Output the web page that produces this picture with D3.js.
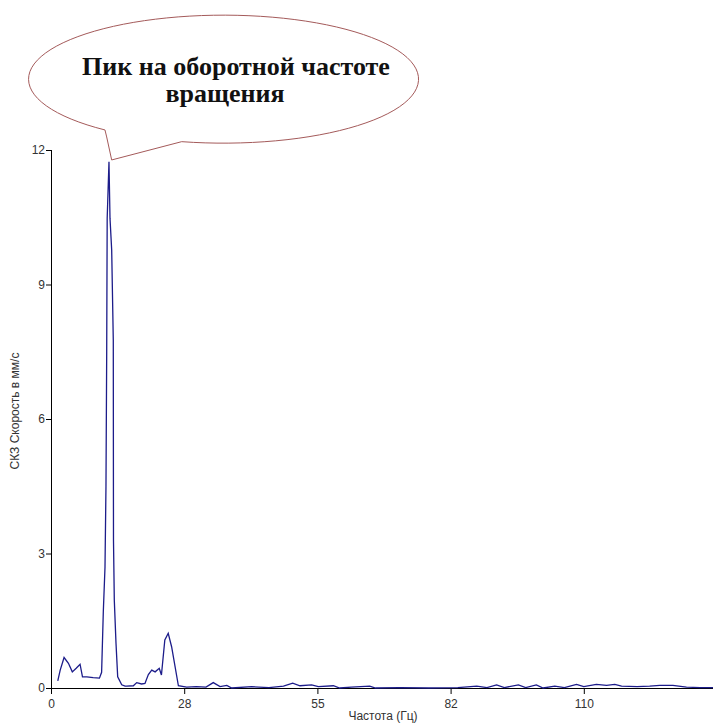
<!DOCTYPE html>
<html>
<head>
<meta charset="utf-8">
<script src="https://cdn.jsdelivr.net/npm/d3@7"></script>
<style>
  body { margin: 0; background: #fff; }
  svg { display: block; overflow: hidden; }
</style>
</head>
<body>
<svg id="spectrum" width="713" height="724"></svg>
<script>
(function(){

  // spectrum: frequency (Hz) and RMS velocity (mm/s)
  var freqs = [1.4, 1.9, 2.7, 3.6, 4.4, 5.2, 6.0, 6.5, 7.4, 8.7, 10.0, 10.45, 10.8, 11.15, 11.35, 11.5, 11.6, 11.97,
               12.18, 12.53, 12.86, 12.9, 13.07, 13.42, 13.77, 14.6, 15.3, 15.6, 17.0, 17.7, 18.7, 19.4, 20.1, 20.8, 21.5, 22.35, 22.8,
               23.5, 24.2, 24.9, 26.3, 28.0, 30.0, 32.0, 33.5, 34.9, 36.3, 37.3, 41.4, 45.0, 48.0, 49.9, 51.4, 53.8, 55.2,
               58.3, 59.6, 62.0, 65.8, 67.0, 72.0, 78.0, 84.0, 87.9, 90.0, 92.0, 93.6, 96.5, 98.0, 100.2, 101.6, 104.0,
               106.0, 108.5, 110.0, 112.6, 114.7, 116.4, 117.8, 121.0, 123.6, 125.7, 128.4, 131.2, 134.0, 137.5]
  var speeds = [0.16, 0.40, 0.68, 0.55, 0.36, 0.44, 0.53, 0.25, 0.25, 0.23, 0.22, 0.35, 1.70, 2.70, 4.50, 7.50, 10.48, 11.74,
                10.48, 9.77, 7.76, 3.30, 1.96, 1.00, 0.25, 0.07, 0.04, 0.04, 0.05, 0.12, 0.09, 0.10, 0.30, 0.40, 0.36, 0.44, 0.29,
                1.07, 1.22, 0.92, 0.05, 0.02, 0.03, 0.02, 0.12, 0.03, 0.06, 0.00, 0.03, 0.01, 0.04, 0.11, 0.05, 0.07, 0.03,
                0.05, 0.00, 0.02, 0.04, 0.00, 0.01, 0.00, 0.01, 0.04, 0.01, 0.07, 0.01, 0.07, 0.01, 0.07, 0.00, 0.04,
                0.01, 0.08, 0.03, 0.08, 0.06, 0.08, 0.04, 0.03, 0.04, 0.06, 0.06, 0.02, 0.01, 0.01]

  var xTicks = [0, 27.5, 55, 82.5, 110]
  var xTickLabels = ['0', '28', '55', '82', '110']
  var yTicks = [0, 3, 6, 9, 12]

  var xTitle = 'Частота (Гц)'
  var yTitle = 'СКЗ Скорость в мм/с'
  var callout = ['Пик на оборотной частоте', 'вращения']

  var svg = d3.select('#spectrum')

  var xScale = d3.scaleLinear().domain([0, 137.5]).range([51, 717])
  var yScale = d3.scaleLinear().domain([0, 12]).range([688, 150])

  // axes
  var xAxis = d3.axisBottom(xScale)
    .tickValues(xTicks)
    .tickSize(6)
    .tickFormat(function(d, i) { return xTickLabels[i] })
  var yAxis = d3.axisLeft(yScale)
    .tickValues(yTicks)
    .tickSize(5)

  var gx = svg.append('g')
    .attr('transform', 'translate(0,' + yScale(0) + ')')
    .call(xAxis)
  gx.select('.domain').attr('d', 'M' + xScale(0) + ',0.5H' + 713)

  var gy = svg.append('g')
    .attr('transform', 'translate(' + xScale(0) + ',0)')
    .call(yAxis)
  gy.select('.domain').attr('d', 'M0.5,' + yScale(12) + 'V' + yScale(0))

  svg.selectAll('.tick text')
    .style('font-family', 'Liberation Sans, Arial, sans-serif')
    .style('font-size', '12px')
    .attr('fill', '#333')
  gx.selectAll('.tick text').attr('dy', '0.9em')
  gy.selectAll('.tick text').attr('x', -6)

  svg.append('text')
    .attr('x', 383).attr('y', 720)
    .attr('text-anchor', 'middle')
    .style('font-family', 'Liberation Sans, Arial, sans-serif')
    .style('font-size', '12px')
    .attr('fill', '#333')
    .text(xTitle)

  svg.append('text')
    .attr('transform', 'translate(19,411) rotate(-90)')
    .attr('text-anchor', 'middle')
    .style('font-family', 'Liberation Sans, Arial, sans-serif')
    .style('font-size', '12px')
    .attr('fill', '#333')
    .text(yTitle)

  // spectrum line
  var pts = freqs.map(function(f, i) { return [xScale(f), yScale(speeds[i])] })
  svg.append('path')
    .attr('d', d3.line()(pts))
    .attr('fill', 'none')
    .attr('stroke', '#1c1c8a')
    .attr('stroke-width', 1.3)

  // speech bubble pointing at the biggest peak
  var iMax = d3.maxIndex(speeds)
  var px = xScale(freqs[iMax]) + 2.7, py = yScale(speeds[iMax]) - 1.7
  var rx = 195, ry = 64
  var bubble = 'M' + (px - 6.7) + ',' + (py - 30) +
    'L' + (px - 5) + ',' + (py - 23) +
    'L' + px + ',' + py +
    'L' + (px + 70) + ',' + (py - 18.3) +
    'A' + rx + ',' + ry + ' 0 1 0 ' + (px - 6.7) + ',' + (py - 30) + 'Z'
  svg.append('path')
    .attr('d', bubble)
    .attr('fill', '#fff')
    .attr('stroke', '#a45a5a')
    .attr('stroke-width', 1)

  svg.selectAll('.callout')
    .data(callout)
    .enter().append('text')
    .attr('class', 'callout')
    .attr('x', function(d, i) { return i === 0 ? 236 : 225 })
    .attr('y', function(d, i) { return i === 0 ? 75 : 102 })
    .attr('text-anchor', 'middle')
    .style('font-family', 'Liberation Serif, Times New Roman, serif')
    .style('font-weight', 'bold')
    .style('font-size', '26px')
    .attr('fill', '#111')
    .text(function(d) { return d })
})()
</script>
</body>
</html>
